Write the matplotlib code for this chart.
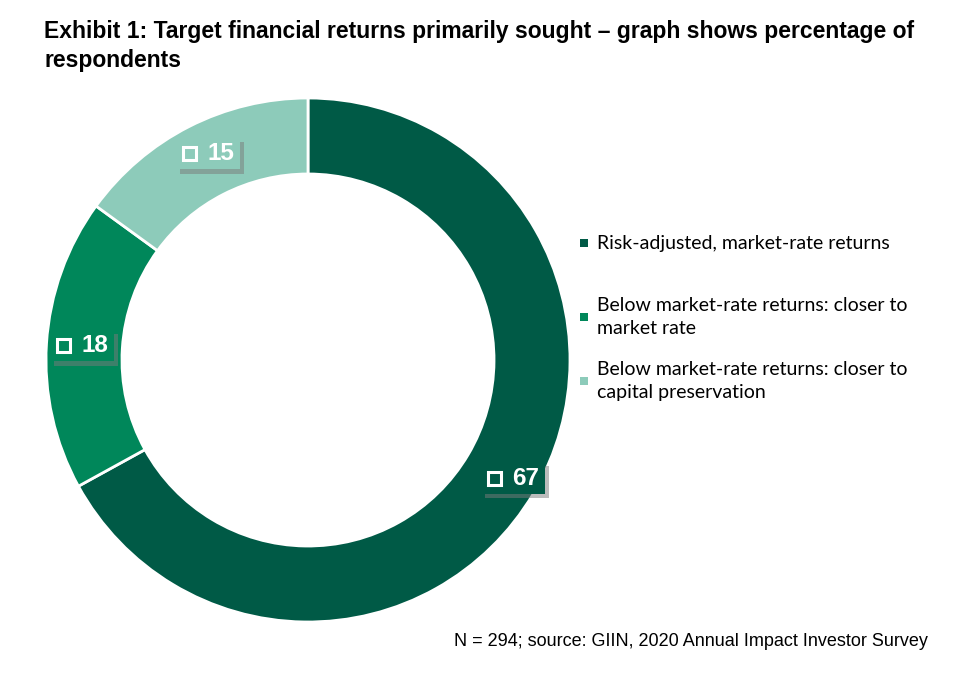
import matplotlib
matplotlib.use("Agg")
import matplotlib.pyplot as plt
import matplotlib.patheffects as pe
from matplotlib.patches import Rectangle
import numpy as np

categories = ["Risk-adjusted, market-rate returns",
              "Below market-rate returns: closer to\nmarket rate",
              "Below market-rate returns: closer to\ncapital preservation"]
values = [67, 18, 15]
colors = ["#005a46", "#00875a", "#8dcbba"]

fig = plt.figure(figsize=(9.57, 6.82), dpi=100)
fig.patch.set_facecolor("white")

# donut centred at (308, 360) px, radius 262 px
ax = fig.add_axes([46 / 957, 60 / 682, 524 / 957, 524 / 682])
wedges, _ = ax.pie(values, colors=colors, startangle=90, counterclock=False,
                   radius=1, wedgeprops=dict(width=0.29, edgecolor="white", linewidth=2))
ax.set_xlim(-1, 1)
ax.set_ylim(-1, 1)
ax.set_aspect("equal")
ax.axis("off")

px = 1 / 262  # one pixel in data units

# value labels in the ring: box with shadow, hollow square, number
for w, v, c in zip(wedges, values, colors):
    ang = np.deg2rad((w.theta1 + w.theta2) / 2)
    r = 0.885
    x, y = r * np.cos(ang) + 4 * px, r * np.sin(ang)
    box = Rectangle((x - 31 * px, y - 16 * px), 64 * px, 32 * px,
                    facecolor=c, edgecolor="none", zorder=3)
    box.set_path_effects([
        pe.SimplePatchShadow(offset=(3, -3), shadow_rgbFace="#7a7a7a", alpha=0.5),
        pe.Normal()])
    ax.add_patch(box)
    ax.add_patch(Rectangle((x - 24 * px, y - 6.5 * px), 13 * px, 13 * px,
                           facecolor="none", edgecolor="white", linewidth=2.2, zorder=4))
    ax.text(x + 14 * px, y, str(v), ha="center", va="center", color="white",
            fontsize=17.5, fontweight="bold", family="Liberation Sans", zorder=5)

# title
fig.text(44 / 957, 1 - 46 / 682,
         "Exhibit 1: Target financial returns primarily sought \u2013 graph shows percentage of\nrespondents",
         ha="left", va="center", fontsize=16.5, fontweight="bold",
         family="Liberation Sans", linespacing=1.3, color="black")

# legend
leg_y = [243, 317, 381]
for lab, c, y in zip(categories, colors, leg_y):
    fig.patches.append(plt.Rectangle((580 / 957, 1 - (y + 4) / 682), 8 / 957, 8 / 682,
                                     transform=fig.transFigure, facecolor=c, edgecolor="none"))
    fig.text(597 / 957, 1 - y / 682, lab, ha="left", va="center", fontsize=14,
             family="Lato", linespacing=1.45, color="black")

# source note
fig.text(928 / 957, 1 - 641 / 682,
         "N = 294; source: GIIN, 2020 Annual Impact Investor Survey",
         ha="right", va="center", fontsize=13, family="Liberation Sans", color="black")

fig.savefig("out.png", dpi=100, facecolor="white")
